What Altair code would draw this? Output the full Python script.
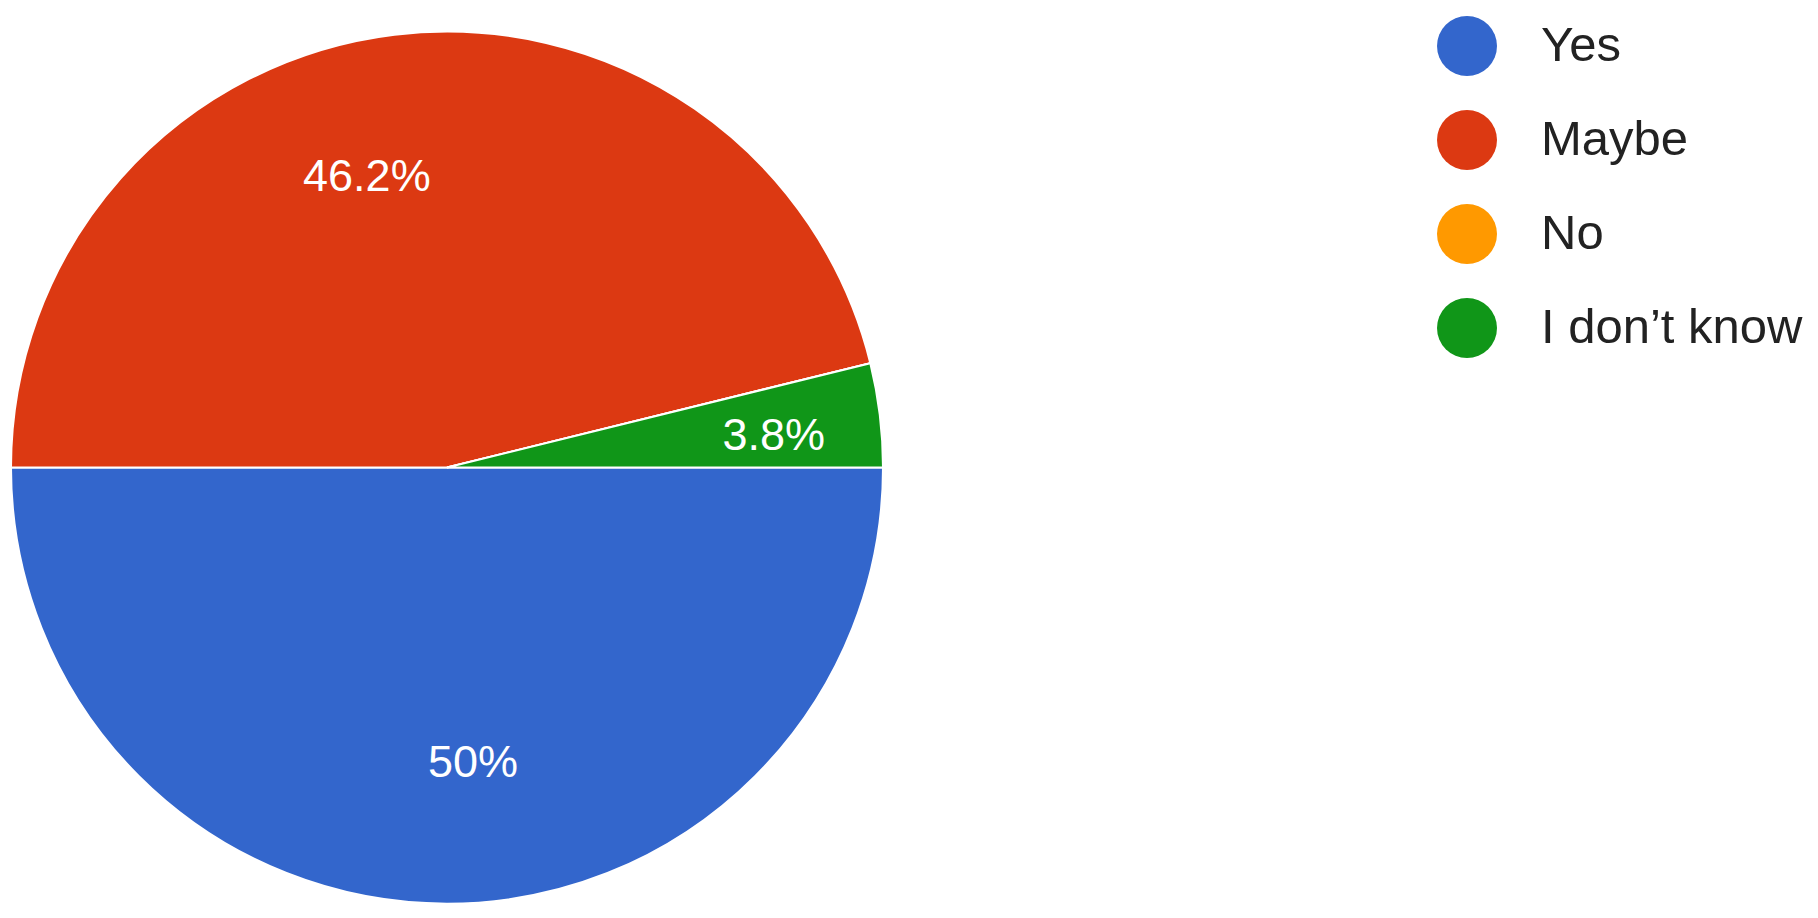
import math
import altair as alt
import pandas as pd

categories = ["Yes", "Maybe", "No", "I don\u2019t know"]
counts = [13, 12, 0, 1]
labels = ["50%", "46.2%", "", "3.8%"]
colors = ["#3366cc", "#dc3912", "#ff9900", "#109618"]

df = pd.DataFrame({
    "answer": categories,
    "count": counts,
    "label": labels,
    "idx": list(range(len(categories))),
})

CX, CY, R = 439, 459.5, 436

theta = alt.Theta("count:Q", stack=True,
                  scale=alt.Scale(range=[math.pi / 2, 5 * math.pi / 2]))
color = alt.Color(
    "answer:N",
    scale=alt.Scale(domain=categories, range=colors),
    sort=categories,
    legend=alt.Legend(
        title=None, orient="none", legendX=1429, legendY=8,
        symbolType="circle", symbolSize=3600, symbolStrokeWidth=0,
        symbolOpacity=1, rowPadding=34, labelOffset=44, padding=0,
        labelFont="Liberation Sans", labelFontSize=49, labelColor="#222222",
        labelLimit=400,
    ),
)
order = alt.Order("idx:Q")

base = alt.Chart(df)

pie = base.mark_arc(outerRadius=R, stroke="white", strokeWidth=2).encode(
    theta=theta, color=color, order=order,
    x=alt.value(CX), y=alt.value(CY),
)

def lab(name, dx, dy):
    return base.mark_text(
        radius=300, font="Liberation Sans", fontSize=45, color="white",
        dx=dx, dy=dy, baseline="middle", align="center",
    ).encode(
        theta=theta, order=order, text="label:N",
        x=alt.value(CX), y=alt.value(CY),
        opacity=alt.condition(alt.datum.answer == name, alt.value(1), alt.value(0)),
    )

chart = alt.layer(
    pie,
    lab("Yes", 26, -5),
    lab("Maybe", -44, 7),
    lab("I don\u2019t know", 29, 5),
).properties(
    width=1800, height=900,
    autosize=alt.AutoSizeParams(type="none"),
    padding=0,
).configure_view(stroke=None)

chart.save("out.html", embed_options={"renderer": "svg", "actions": False})
